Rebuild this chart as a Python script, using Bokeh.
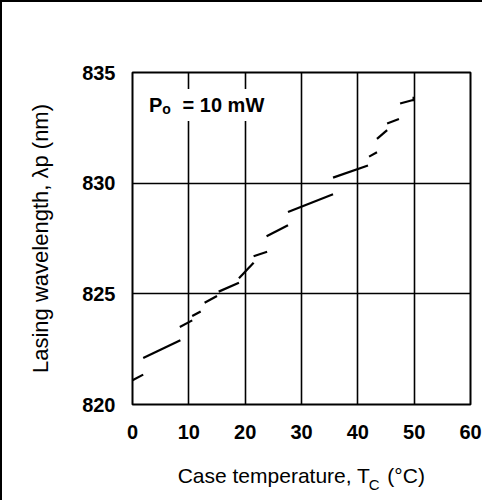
from bokeh.plotting import figure
from bokeh.models import Range1d, FixedTicker, Label, LinearAxis
from bokeh.embed import file_html
from bokeh.resources import INLINE

# Data (case temperature in °C, wavelength in nm)
# Each visible dash of the curve: start and end points
t_start = [0.0, 1.9, 8.4, 10.6, 12.8, 15.3, 18.9, 21.5, 23.8, 27.6, 35.6, 42.0, 43.4, 45.2, 47.5, 49.9]
wl_start = [821.1, 822.1, 823.5, 824.0, 824.6, 825.1, 825.7, 826.7, 827.6, 828.7, 830.25, 831.2, 832.0, 832.7, 833.6, 833.7]
t_end = [1.9, 8.5, 10.6, 12.1, 15.0, 18.9, 21.5, 23.9, 27.6, 35.6, 41.8, 43.4, 45.2, 47.3, 49.8, 49.9]
wl_end = [821.35, 822.9, 823.8, 824.2, 824.9, 825.5, 826.4, 826.9, 828.1, 829.5, 830.8, 831.4, 832.4, 832.9, 833.76, 833.9]

x_ticks = [0, 10, 20, 30, 40, 50, 60]
y_ticks = [820, 825, 830, 835]

NBSP = "\u00a0"
x_title = "Case temperature, T" + NBSP * 3 + "(\u00b0C)"
x_title_sub = "C"
x_title_sub_pos = 42.9
y_title = "Lasing wavelength, \u03bbp (nm)"

FONT = "Liberation Sans"

p = figure(width=482, height=500,
           x_range=Range1d(0, 60), y_range=Range1d(820, 835),
           output_backend="svg", toolbar_location=None,
           min_border_left=130, min_border_right=14,
           min_border_top=70, min_border_bottom=98)
p.styles = {"border-top": "2px solid black", "border-left": "2px solid black"}

p.background_fill_color = "white"
p.border_fill_color = "white"
p.outline_line_color = "black"
p.outline_line_width = 2

p.xaxis.ticker = FixedTicker(ticks=x_ticks)
p.yaxis.ticker = FixedTicker(ticks=y_ticks)
for ax in (p.xaxis, p.yaxis):
    ax.axis_line_color = None
    ax.major_tick_line_color = None
    ax.minor_tick_line_color = None
    ax.major_tick_out = 0
    ax.major_tick_in = 0
    ax.minor_tick_out = 0
    ax.minor_tick_in = 0
    ax.major_label_text_font = FONT
    ax.major_label_text_font_size = "20px"
    ax.major_label_text_font_style = "bold"
    ax.major_label_text_color = "black"

p.xaxis.major_label_standoff = 20
p.yaxis.major_label_standoff = 17

p.yaxis.axis_label = y_title
p.yaxis.axis_label_text_font = FONT
p.yaxis.axis_label_text_font_size = "22px"
p.yaxis.axis_label_text_font_style = "normal"
p.yaxis.axis_label_text_color = "black"
p.yaxis.axis_label_standoff = 26

p.xaxis.axis_label = x_title
p.xaxis.axis_label_text_font = FONT
p.xaxis.axis_label_text_font_size = "21px"
p.xaxis.axis_label_text_font_style = "normal"
p.xaxis.axis_label_text_color = "black"
p.xaxis.axis_label_standoff = 22

# subscript "C" of T_C, drawn as a tick label of a second bottom axis
sub_axis = LinearAxis(ticker=FixedTicker(ticks=[x_title_sub_pos]),
                      major_label_overrides={x_title_sub_pos: x_title_sub},
                      axis_line_color=None, major_tick_line_color=None,
                      minor_tick_line_color=None, major_tick_out=0, major_tick_in=0,
                      minor_tick_out=0, minor_tick_in=0,
                      major_label_standoff=-14,
                      major_label_text_font=FONT, major_label_text_font_size="15px",
                      major_label_text_color="black")
p.add_layout(sub_axis, "below")

p.xgrid.ticker = FixedTicker(ticks=x_ticks)
p.ygrid.ticker = FixedTicker(ticks=y_ticks)
p.grid.grid_line_color = "black"
p.grid.grid_line_width = 1.6
p.grid.grid_line_alpha = 1.0

p.segment(x0=t_start, y0=wl_start, x1=t_end, y1=wl_end,
          line_color="black", line_width=2.2)

# Annotation P_o = 10 mW
p.add_layout(Label(x=8.0, y=833.53, text="= 10 mW", text_align="left",
                   text_baseline="alphabetic", text_color="black",
                   text_font=FONT, text_font_size="20px", text_font_style="bold",
                   background_fill_color="white", padding=5))
p.add_layout(Label(x=5.3, y=833.53, text="P", text_align="right",
                   text_baseline="alphabetic", text_color="black",
                   text_font=FONT, text_font_size="20px", text_font_style="bold",
                   background_fill_color="white"))
p.add_layout(Label(x=5.3, y=833.33, text="o", text_align="left",
                   text_baseline="alphabetic", text_color="black",
                   text_font=FONT, text_font_size="14px", text_font_style="bold"))

open("out.html", "w").write(file_html(p, INLINE))
